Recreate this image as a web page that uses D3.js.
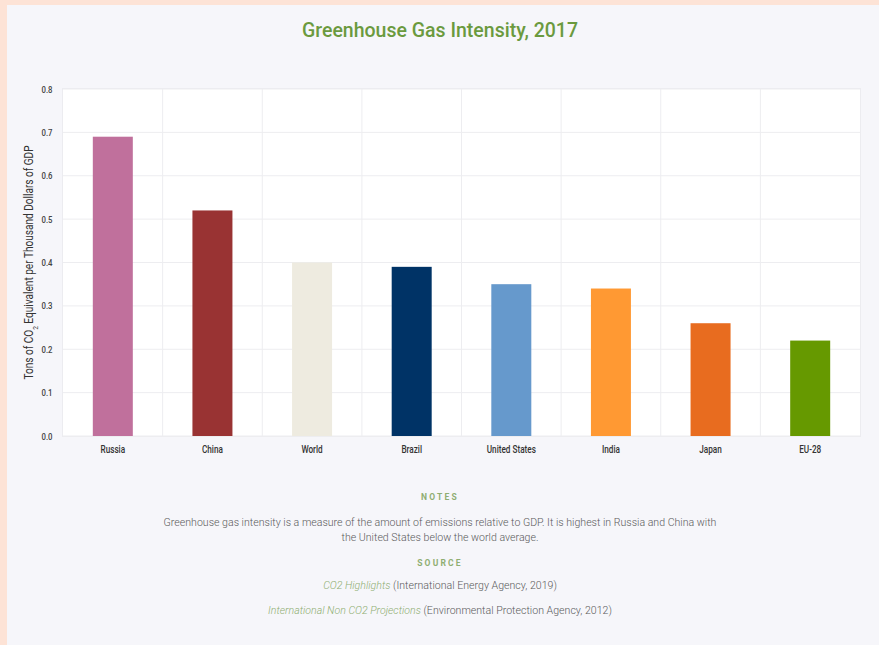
<!DOCTYPE html>
<html>
<head>
<meta charset="utf-8">
<script src="https://cdn.jsdelivr.net/npm/d3@7"></script>
<style>
  html, body { margin: 0; padding: 0; background: #fde3d6; }
  #panel { position: absolute; left: 7px; top: 5px; width: 872px; height: 640px; background: #f6f6fa; }
  svg { display: block; }
</style>
</head>
<body>
<div id="panel"></div>
<script>
// Greenhouse gas intensity by economy, 2017 (tons CO2e per thousand dollars of GDP)
const categories = ["Russia", "China", "World", "Brazil", "United States", "India", "Japan", "EU-28"];
const values = [0.69, 0.52, 0.40, 0.39, 0.35, 0.34, 0.26, 0.22];
const barColors = ["#c0709c", "#993333", "#eeebe0", "#003366", "#6699cc", "#ff9933", "#e86c1f", "#669900"];
const yTicks = [0, 0.1, 0.2, 0.3, 0.4, 0.5, 0.6, 0.7, 0.8];

const titleText = "Greenhouse Gas Intensity, 2017";
const notesHeading = "NOTES";
const notesLines = [
  "Greenhouse gas intensity is a measure of the amount of emissions relative to GDP. It is highest in Russia and China with",
  "the United States below the world average."
];
const sourceHeading = "SOURCE";
const sources = [
  { title: "CO2 Highlights", rest: " (International Energy Agency, 2019)" },
  { title: "International Non CO2 Projections", rest: " (Environmental Protection Agency, 2012)" }
];

const W = 872, H = 640;
const svg = d3.select("#panel").append("svg").attr("width", W).attr("height", H);

// plot area in panel coordinates
const plot = { left: 56, right: 853, top: 84, bottom: 431 };
const textCx = 433;

const x = d3.scaleBand().domain(categories).range([plot.left, plot.right]).paddingInner(0).paddingOuter(0);
const y = d3.scaleLinear().domain([0, 0.8]).range([plot.bottom, plot.top]);

const sans = "Roboto, 'Open Sans', sans-serif";
const narrow = "scale(0.82,1)"; // compressed axis lettering

// title
svg.append("text")
  .attr("x", textCx).attr("y", 32)
  .attr("text-anchor", "middle")
  .attr("font-family", sans)
  .attr("font-weight", 500)
  .attr("font-size", 19.5)
  .attr("fill", "#6b9a3e")
  .text(titleText);

// plot background with soft edge
svg.append("rect")
  .attr("x", plot.left - 1).attr("y", plot.top - 1)
  .attr("width", plot.right - plot.left + 2).attr("height", plot.bottom - plot.top + 2)
  .attr("fill", "#ececf0");
svg.append("rect")
  .attr("x", plot.left).attr("y", plot.top)
  .attr("width", plot.right - plot.left).attr("height", plot.bottom - plot.top)
  .attr("fill", "#ffffff");

// horizontal gridlines
svg.append("g")
  .selectAll("line")
  .data(yTicks)
  .join("line")
  .attr("x1", plot.left).attr("x2", plot.right)
  .attr("y1", d => y(d)).attr("y2", d => y(d))
  .attr("stroke", "#ededf0").attr("stroke-width", 1);

// vertical gridlines at band boundaries
svg.append("g")
  .selectAll("line")
  .data(categories.slice(1))
  .join("line")
  .attr("x1", d => x(d)).attr("x2", d => x(d))
  .attr("y1", plot.top).attr("y2", plot.bottom)
  .attr("stroke", "#ededf0").attr("stroke-width", 1);

// bars
const barW = 40;
svg.append("g")
  .selectAll("rect")
  .data(categories)
  .join("rect")
  .attr("x", d => x(d) + x.bandwidth() / 2 - barW / 2)
  .attr("y", (d, i) => y(values[i]))
  .attr("width", barW)
  .attr("height", (d, i) => y(0) - y(values[i]))
  .attr("fill", (d, i) => barColors[i]);

// y axis
const yAxis = svg.append("g")
  .attr("transform", `translate(${plot.left - 8},0)`)
  .call(d3.axisLeft(y).tickValues(yTicks).tickFormat(d3.format(".1f")).tickSize(0));
yAxis.select(".domain").remove();
yAxis.selectAll("text")
  .attr("transform", narrow)
  .attr("font-family", sans)
  .attr("font-weight", 500)
  .attr("font-size", 9.5)
  .attr("fill", "#444");

// x axis
const xAxis = svg.append("g")
  .attr("transform", `translate(0,${plot.bottom})`)
  .call(d3.axisBottom(x).tickSize(0).tickPadding(10));
xAxis.select(".domain").remove();
xAxis.selectAll("text")
  .attr("transform", narrow)
  .attr("font-family", sans)
  .attr("font-weight", 500)
  .attr("font-size", 10)
  .attr("fill", "#333");

// y axis title
const yTitle = svg.append("text")
  .attr("transform", `translate(26,${(plot.top + plot.bottom) / 2}) rotate(-90) ${narrow}`)
  .attr("text-anchor", "middle")
  .attr("font-family", sans)
  .attr("font-size", 12.3)
  .attr("fill", "#333");
yTitle.append("tspan").text("Tons of CO");
yTitle.append("tspan").attr("baseline-shift", "sub").attr("font-size", 8).text("2");
yTitle.append("tspan").text(" Equivalent per Thousand Dollars of GDP");

// notes and sources
svg.append("text")
  .attr("x", textCx).attr("y", 495)
  .attr("text-anchor", "middle")
  .attr("font-family", sans)
  .attr("font-weight", 700)
  .attr("font-size", 8.5)
  .attr("letter-spacing", 2.2)
  .attr("fill", "#8fae72")
  .text(notesHeading);

svg.append("g")
  .selectAll("text")
  .data(notesLines)
  .join("text")
  .attr("x", textCx).attr("y", (d, i) => 521 + i * 14.5)
  .attr("text-anchor", "middle")
  .attr("font-family", sans)
  .attr("font-weight", 300)
  .attr("font-size", 10.6)
  .attr("fill", "#5a5a5a")
  .text(d => d);

svg.append("text")
  .attr("x", textCx).attr("y", 561)
  .attr("text-anchor", "middle")
  .attr("font-family", sans)
  .attr("font-weight", 700)
  .attr("font-size", 8.5)
  .attr("letter-spacing", 2.2)
  .attr("fill", "#8fae72")
  .text(sourceHeading);

const srcText = svg.append("g")
  .selectAll("text")
  .data(sources)
  .join("text")
  .attr("x", textCx).attr("y", (d, i) => 584 + i * 25)
  .attr("text-anchor", "middle")
  .attr("font-family", sans)
  .attr("font-weight", 300)
  .attr("font-size", 10.6);
srcText.append("tspan").attr("font-style", "italic").attr("fill", "#8fae72").text(d => d.title);
srcText.append("tspan").attr("fill", "#5a5a5a").text(d => d.rest);
</script>
</body>
</html>
